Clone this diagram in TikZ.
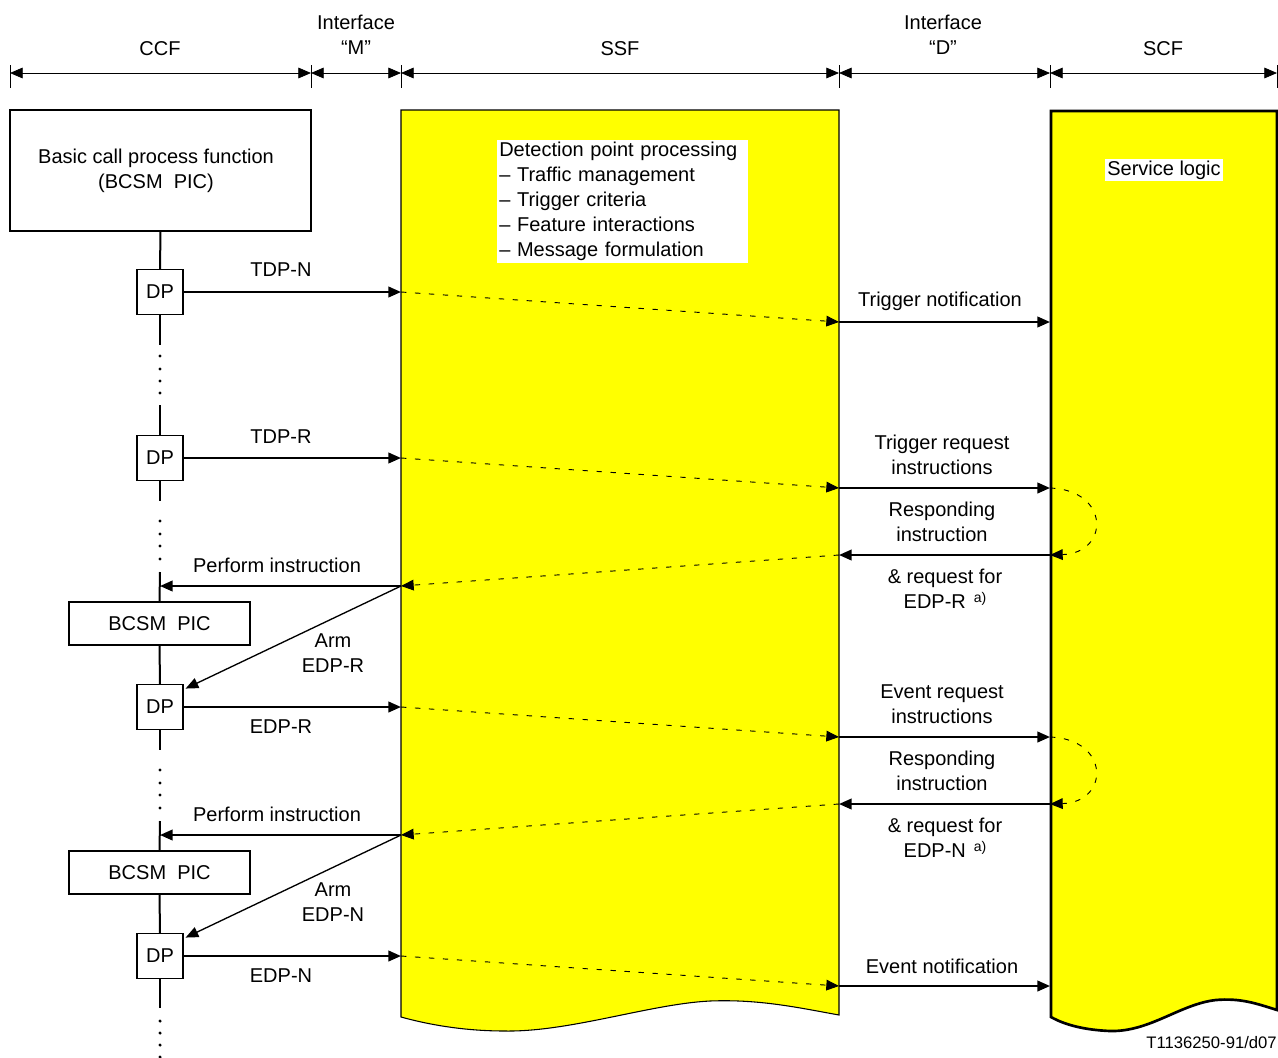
\documentclass[tikz,border=0pt]{standalone}
\usepackage{fontspec}
\setmainfont{Liberation Sans}
\usetikzlibrary{arrows.meta}
\definecolor{yel}{RGB}{255,255,0}
\begin{document}
\begin{tikzpicture}[x=0.75pt,y=-0.75pt,
  font=\fontsize{15pt}{18.75pt}\selectfont,
  tipA/.style={-{Triangle[length=9.5pt,width=8pt]}},
  hdr/.style={line width=0.6pt,{Triangle[length=9.5pt,width=8pt]}-{Triangle[length=9.5pt,width=8pt]}},
  tick/.style={line width=0.6pt},
  msg/.style={line width=1.5pt,tipA},
  arm/.style={line width=1pt,tipA},
  dsh/.style={line width=0.7pt,dash pattern=on 4pt off 6.5pt,tipA},
  vline/.style={line width=1.5pt},
  box/.style={draw,line width=0.9pt,fill=white,inner sep=0pt},
  dpbox/.style={box,minimum width=34.5pt,minimum height=33.75pt},
  picbox/.style={box,minimum width=135.75pt,minimum height=32.25pt},
  lbl/.style={align=center,inner sep=0pt},
  dotc/.style={fill=black,inner sep=0pt,minimum size=2.6pt,circle}
]
\useasboundingbox (0,0) rectangle (1278,1057);

% ---------- blocks ----------
\path[draw=black,line width=0.8pt,fill=yel]
  (401,110) -- (839,110) -- (839,1015)
  .. controls (800,1008) and (760,999) .. (710,1001)
  .. controls (650,1004) and (570,1032) .. (505,1031)
  .. controls (465,1031) and (430,1025) .. (401,1017) -- cycle;
\path[draw=black,line width=2pt,fill=yel]
  (1051,111) -- (1277,111) -- (1277,1010)
  .. controls (1255,1003) and (1240,998) .. (1216,1000)
  .. controls (1180,1004) and (1150,1032) .. (1110,1031)
  .. controls (1085,1030) and (1065,1025) .. (1051,1017) -- cycle;

% ---------- header ----------
\foreach \n/\x in {t0/10,t1/311,t2/401,t3/839,t4/1050,t5/1277}{
  \coordinate (\n) at (\x,73);
  \draw[tick] (\x,65) -- (\x,88);
}
\draw[hdr] (t0) -- (t1);
\draw[hdr] (t1) -- (t2);
\draw[hdr] (t2) -- (t3);
\draw[hdr] (t3) -- (t4);
\draw[hdr] (t4) -- (t5);
\node[lbl] (hccf) at (160,49) {CCF};
\node[lbl] (hm) at (356,35) {Interface\\“M”};
\node[lbl] (hssf) at (620,49) {SSF};
\node[lbl] (hd) at (943,35) {Interface\\“D”};
\node[lbl] (hscf) at (1163,49) {SCF};

% ---------- inner labels ----------
\node[fill=white,align=left,text width=185pt,inner xsep=1.5pt,inner ysep=1.5pt,anchor=north west] (dpp) at (497,140)
  {Detection point processing\\– Traffic management\\– Trigger criteria\\– Feature interactions\\– Message formulation};
\node[fill=white,inner sep=1.5pt] (slog) at (1164,170) {Service logic};

% ---------- CCF column ----------
\node[box,minimum width=225.75pt,minimum height=90.75pt] (bcf) at (160.5,170.5) {};
\node[lbl] (bcft) at (156,171) {Basic call process function\\(BCSM\ \ PIC)};
\node[dpbox] (dp1) at (160,292) {DP};
\node[dpbox] (dp2) at (160,458) {DP};
\node[picbox] (pic1) at (159.5,623.5) {BCSM\ \ PIC};
\node[dpbox] (dp3) at (160,707) {DP};
\node[picbox] (pic2) at (159.5,872.5) {BCSM\ \ PIC};
\node[dpbox] (dp4) at (160,956) {DP};

\coordinate (v1a) at (160,345); \coordinate (v1b) at (160,405);
\coordinate (v2a) at (160,501); \coordinate (v2b) at (160,572);
\coordinate (v3a) at (160,750); \coordinate (v3b) at (160,821);
\coordinate (v4a) at (160,1008);
\draw[vline] (bcf.south) -- (dp1.north);
\draw[vline] (dp1.south) -- (v1a);
\draw[vline] (v1b) -- (dp2.north);
\draw[vline] (dp2.south) -- (v2a);
\draw[vline] (v2b) -- (pic1.north);
\draw[vline] (pic1.south) -- (dp3.north);
\draw[vline] (dp3.south) -- (v3a);
\draw[vline] (v3b) -- (pic2.north);
\draw[vline] (pic2.south) -- (dp4.north);
\draw[vline] (dp4.south) -- (v4a);
\foreach \y in {356,369,381,393, 521,534,546,559, 770,783,795,808, 1021,1033,1045,1057}
  \node[dotc] at (160,\y) {};

% ---------- coordinates on edges ----------
\coordinate (s1) at (401,292);  \coordinate (r1) at (839,322);  \coordinate (c1) at (1050,322);
\coordinate (s2) at (401,458);  \coordinate (r2) at (839,488);  \coordinate (c2) at (1050,488);
\coordinate (c3) at (1050,555); \coordinate (r3) at (839,555);  \coordinate (s3) at (401,586);
\coordinate (p1) at (160,586);
\coordinate (s4) at (401,707);  \coordinate (r4) at (839,737);  \coordinate (c4) at (1050,737);
\coordinate (c5) at (1050,804); \coordinate (r5) at (839,804);  \coordinate (s5) at (401,835);
\coordinate (p2) at (160,835);
\coordinate (s6) at (401,956);  \coordinate (r6) at (839,986);  \coordinate (c6) at (1050,986);

% ---------- TDP-N ----------
\draw[msg] (dp1.east) -- (s1);
\draw[dsh] (s1) -- (r1);
\draw[msg] (r1) -- (c1);
\node[lbl] (ltdpn) at (281,270) {TDP-N};
\node[lbl] (ltn) at (940,301) {Trigger notification};

% ---------- TDP-R ----------
\draw[msg] (dp2.east) -- (s2);
\draw[dsh] (s2) -- (r2);
\draw[msg] (r2) -- (c2);
\draw[dsh] (c2) .. controls (1110,490) and (1110,553) .. (c3);
\draw[msg] (c3) -- (r3);
\draw[dsh] (r3) -- (s3);
\draw[msg] (s3) -- (p1);
\draw[arm] (s3) -- ([xshift=1.5pt,yshift=-3.5pt]dp3.north east);
\node[lbl] (ltdpr) at (281,437) {TDP-R};
\node[lbl] (ltr) at (942,455) {Trigger request\\instructions};
\node[lbl] (lri1) at (942,522) {Responding\\instruction};
\node[lbl] (lrq1) at (945,589) {\& request for\\EDP-R\hspace{6pt}\raisebox{0.6ex}{\fontsize{10.5pt}{10.5pt}\selectfont a)}};
\node[lbl] (lpi1) at (277,565) {Perform instruction};
\node[lbl] (larm1) at (333,653) {Arm\\EDP-R};

% ---------- EDP-R ----------
\draw[msg] (dp3.east) -- (s4);
\draw[dsh] (s4) -- (r4);
\draw[msg] (r4) -- (c4);
\draw[dsh] (c4) .. controls (1110,739) and (1110,802) .. (c5);
\draw[msg] (c5) -- (r5);
\draw[dsh] (r5) -- (s5);
\draw[msg] (s5) -- (p2);
\draw[arm] (s5) -- ([xshift=1.5pt,yshift=-3.5pt]dp4.north east);
\node[lbl] (ledpr) at (281,727) {EDP-R};
\node[lbl] (ler) at (942,704) {Event request\\instructions};
\node[lbl] (lri2) at (942,771) {Responding\\instruction};
\node[lbl] (lrq2) at (945,838) {\& request for\\EDP-N\hspace{6pt}\raisebox{0.6ex}{\fontsize{10.5pt}{10.5pt}\selectfont a)}};
\node[lbl] (lpi2) at (277,814) {Perform instruction};
\node[lbl] (larm2) at (333,902) {Arm\\EDP-N};

% ---------- EDP-N ----------
\draw[msg] (dp4.east) -- (s6);
\draw[dsh] (s6) -- (r6);
\draw[msg] (r6) -- (c6);
\node[lbl] (ledpn) at (281,976) {EDP-N};
\node[lbl] (len) at (942,966) {Event notification};

% ---------- footer ----------
\node[anchor=east,inner sep=0pt,font=\fontsize{12.5pt}{14pt}\selectfont] (foot) at (1277,1043) {T1136250-91/d07};
\end{tikzpicture}
\end{document}
